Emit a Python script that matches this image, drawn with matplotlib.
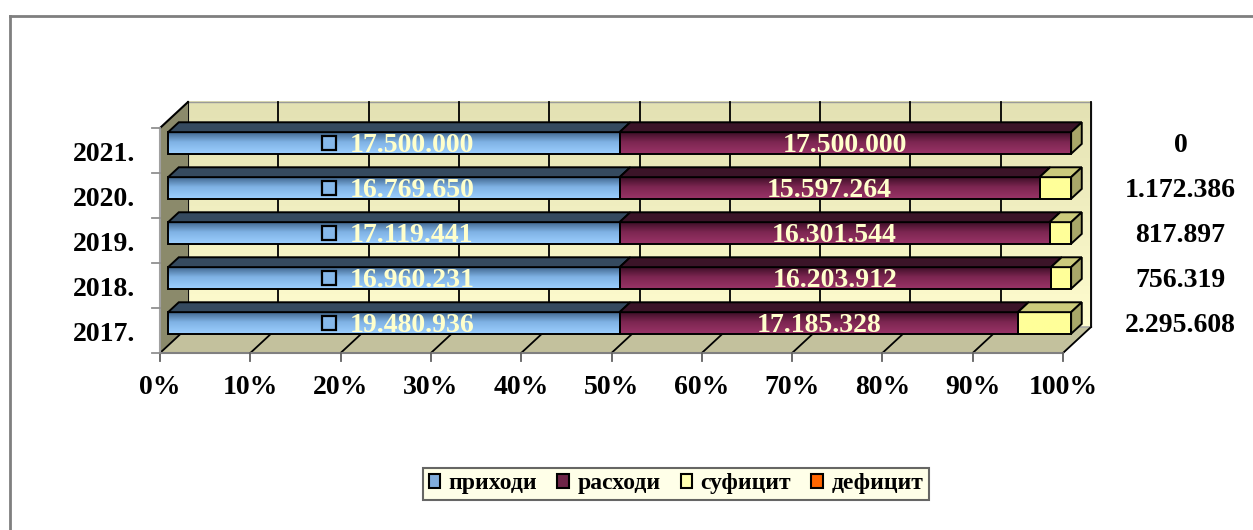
import numpy as np
import matplotlib
matplotlib.use("Agg")
import matplotlib.pyplot as plt
from matplotlib.patches import Polygon, Patch
from matplotlib.colors import LinearSegmentedColormap
from matplotlib.lines import Line2D
import matplotlib.transforms as mtransforms

# ---------------- data ----------------
years = ['2017.', '2018.', '2019.', '2020.', '2021.']
prihodi = [19480936, 16960231, 17119441, 16769650, 17500000]
rashodi = [17185328, 16203912, 16301544, 15597264, 17500000]
suficit = [2295608, 756319, 817897, 1172386, 0]
deficit = [0, 0, 0, 0, 0]
series_names = ['приходи', 'расходи', 'суфицит', 'дефицит']
pct_ticks = [0, 10, 20, 30, 40, 50, 60, 70, 80, 90, 100]

def fmt(v):
    return '{:,}'.format(v).replace(',', '.')

# ---------------- styling ----------------
plt.rcParams['font.family'] = ['Liberation Serif', 'DejaVu Serif']
plt.rcParams['font.weight'] = 'bold'
FS = 20

W, H = 1253, 530
fig = plt.figure(figsize=(W / 100, H / 100), dpi=100)
ax = fig.add_axes([0, 0, 1, 1])
PX0, PXS = 160.0, 9.03     # pixel of 0 % and pixels per %
PYB, PYS = 353.0, 45.0     # pixel of front-floor line and pixels per category
ax.set_xlim(-PX0 / PXS, (W - PX0) / PXS)
ax.set_ylim(-0.5 - (H - PYB) / PYS, -0.5 + PYB / PYS)
ax.axis('off')

DX, DY = 28 / PXS, 26 / PYS   # depth offset of the back wall
F1, F2 = 0.29, 0.67           # bar front / back depth fraction
HB = 0.24                     # half bar thickness
ncat = len(years)

def P(x, y, d):
    return (x + d * DX, y + d * DY)

# outer border
fig.add_artist(Line2D([10 / W, 1], [1 - 16 / H, 1 - 16 / H], color='#7f7f7f', lw=2, transform=fig.transFigure))
fig.add_artist(Line2D([10 / W, 10 / W], [0, 1 - 16 / H], color='#7f7f7f', lw=2, transform=fig.transFigure))

# back wall with gradient
wall_cmap = LinearSegmentedColormap.from_list('wall', ['#e3e1b3', '#fffdcf'])
bx0, by0 = P(0, -0.5, 1)
bx1, by1 = P(100, ncat - 0.5, 1)
ax.imshow(np.linspace(0, 1, 100).reshape(-1, 1), cmap=wall_cmap, extent=[bx0, bx1, by0, by1],
          aspect='auto', origin='upper', zorder=1, interpolation='bilinear')
ax.add_patch(Polygon([(bx0, by0), (bx1, by0), (bx1, by1), (bx0, by1)], closed=True,
                     fill=False, edgecolor='#9a9a9a', lw=1, zorder=2))
for k in pct_ticks:
    a = P(k, -0.5, 1); b = P(k, ncat - 0.5, 1)
    ax.plot([a[0], b[0]], [a[1], b[1]], color='black', lw=1.3, zorder=2)

# floor
floor = [P(0, -0.5, 0), P(100, -0.5, 0), P(100, -0.5, 1), P(0, -0.5, 1)]
ax.add_patch(Polygon(floor, closed=True, facecolor='#c3c19d', edgecolor='#a0a0a0', lw=1, zorder=2))
for k in pct_ticks:
    a = P(k, -0.5, 0); b = P(k, -0.5, 1)
    ax.plot([a[0], b[0]], [a[1], b[1]], color='black', lw=1.3, zorder=2.1)

# left wall
lwall = [P(0, -0.5, 0), P(0, ncat - 0.5, 0), P(0, ncat - 0.5, 1), P(0, -0.5, 1)]
ax.add_patch(Polygon(lwall, closed=True, facecolor='#8b8a6b', edgecolor='none', zorder=2))
a = P(0, ncat - 0.5, 0); b = P(0, ncat - 0.5, 1)
ax.plot([a[0], b[0]], [a[1], b[1]], color='black', lw=1.5, zorder=2.2)

# front axes + ticks
ax.plot([0, 100], [-0.5, -0.5], color='#808080', lw=1.5, zorder=2.3)
ax.plot([0, 0], [-0.5, ncat - 0.5], color='#a0a0a0', lw=1.5, zorder=2.3)
for k in pct_ticks:
    ax.plot([k, k], [-0.5, -0.5 - 8 / PYS], color='#606060', lw=1.3, zorder=2.3)
    ax.text(k, -0.5 - 34 / PYS, f'{k}%', ha='center', va='center', fontsize=FS,
            fontweight='bold', color='black')
for j in range(ncat + 1):
    ax.plot([-8 / PXS, 0], [j - 0.5, j - 0.5], color='#909090', lw=1.3, zorder=2.3)
for i, yr in enumerate(years):
    ax.text(-25 / PXS, i - 0.08, yr, ha='right', va='center', fontsize=FS,
            fontweight='bold', color='black')

# bars
front_cmaps = [
    LinearSegmentedColormap.from_list('b', [(0, '#41678f'), (0.45, '#7fb2e4'), (1, '#9dcfff')]),
    LinearSegmentedColormap.from_list('r', [(0, '#3e0f27'), (0.45, '#7c2651'), (1, '#9a3468')]),
    LinearSegmentedColormap.from_list('y', ['#ffff99', '#ffff99']),
    LinearSegmentedColormap.from_list('o', ['#ff6600', '#ff6600']),
]
top_colors = ['#354a5f', '#3b1428', '#cbca7c', '#c05000']
side_color = '#a8a769'
grad = np.linspace(0, 1, 100).reshape(-1, 1)

all_series = [prihodi, rashodi, suficit, deficit]
for i in range(ncat):
    vals = [s[i] for s in all_series]
    tot = sum(vals)
    left = 0.0
    yc = i
    for si, v in enumerate(vals):
        w = v / tot * 100
        if w <= 0:
            continue
        l, r = left, left + w
        x0, yb = P(l, yc - HB, F1)
        x1, yt = P(r, yc + HB, F1)
        ax.imshow(grad, cmap=front_cmaps[si], extent=[x0, x1, yb, yt], aspect='auto',
                  origin='upper', zorder=5, interpolation='bilinear')
        ax.add_patch(Polygon([(x0, yb), (x1, yb), (x1, yt), (x0, yt)], closed=True,
                             fill=False, edgecolor='black', lw=1.4, zorder=6))
        top = [P(l, yc + HB, F1), P(r, yc + HB, F1), P(r, yc + HB, F2), P(l, yc + HB, F2)]
        ax.add_patch(Polygon(top, closed=True, facecolor=top_colors[si], edgecolor='black',
                             lw=1.4, zorder=6))
        left = r
    side = [P(100, yc - HB, F1), P(100, yc + HB, F1), P(100, yc + HB, F2), P(100, yc - HB, F2)]
    ax.add_patch(Polygon(side, closed=True, facecolor=side_color, edgecolor='black', lw=1.4, zorder=6))

    # labels
    ly = yc + F1 * DY
    wp = prihodi[i] / tot * 100
    cx = P(wp / 2, 0, F1)[0]
    tr_txt = mtransforms.offset_copy(ax.transData, fig=fig, x=-44.5, y=0, units='dots')
    ax.text(cx, ly, fmt(prihodi[i]), transform=tr_txt, ha='left', va='center_baseline',
            fontsize=FS, fontweight='bold', color='#ffffcc', zorder=8)
    tr_key = mtransforms.offset_copy(ax.transData, fig=fig, x=-65, y=0, units='dots')
    ax.plot([cx], [ly], marker='s', markersize=9.5, markerfacecolor='#86b8ea',
            markeredgecolor='black', markeredgewidth=1.6, transform=tr_key, zorder=8)
    wr = rashodi[i] / tot * 100
    cxr = P(wp + wr / 2, 0, F1)[0]
    ax.text(cxr, ly, fmt(rashodi[i]), ha='center', va='center_baseline', fontsize=FS,
            fontweight='bold', color='#ffffcc', zorder=8)
    ax.text(113.0, ly, fmt(suficit[i]), ha='center', va='center_baseline', fontsize=FS,
            fontweight='bold', color='black', zorder=8)

# legend
handles = [Patch(facecolor=c, edgecolor='black', linewidth=1.5)
           for c in ['#80acdc', '#6e2548', '#ffffb0', '#ff6600']]
leg = fig.legend(handles, series_names, loc='center', bbox_to_anchor=(676 / W, 1 - 484 / H),
                 ncol=4, frameon=True, fancybox=False, fontsize=17, handlelength=0.5,
                 handleheight=0.5, handletextpad=0.35, columnspacing=0.85, borderpad=0.25,
                 prop={'family': ['Liberation Serif'], 'weight': 'bold', 'size': 17})
leg.get_frame().set_facecolor('#ffffe3')
leg.get_frame().set_edgecolor('#404040')
leg.get_frame().set_linewidth(1.5)

fig.savefig('out.png', dpi=100)
